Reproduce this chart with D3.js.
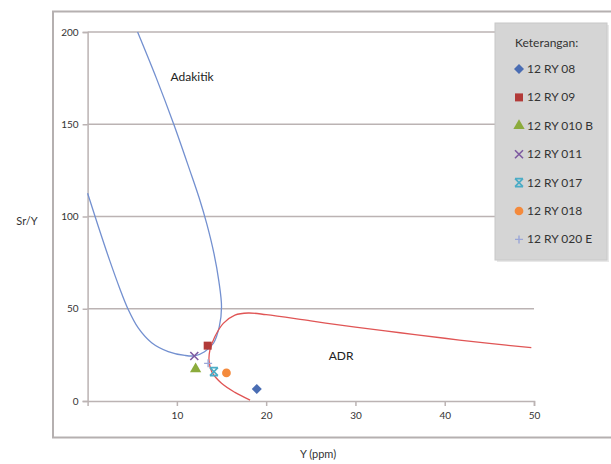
<!DOCTYPE html>
<html><head><meta charset="utf-8">
<script src="https://cdn.jsdelivr.net/npm/d3@7"></script>
<style>body{margin:0;background:#fff;} svg{display:block;font-family:Lato,"Open Sans",sans-serif;}</style>
</head><body>
<svg id="c" width="611" height="464"></svg>
<script>
const xTicks = [10, 20, 30, 40, 50];
const yTicks = [0, 50, 100, 150, 200];
const seriesNames = ["12 RY 08", "12 RY 09", "12 RY 010 B", "12 RY 011", "12 RY 017", "12 RY 018", "12 RY 020 E"];
const seriesX = [18.95, 13.45, 12.1, 11.95, 14.15, 15.55, 13.5];
const seriesY = [6.5, 30.0, 17.4, 24.4, 15.9, 15.2, 20.4];
const seriesColors = ["#4a6db3", "#b23a38", "#8bab3c", "#7d5aa0", "#4bacc6", "#f48a3c", "#9aa6d8"];
const seriesShapes = ["diamond", "square", "triangle", "x", "star", "circle", "plus"];
const adakitikX = [5.6, 7.7, 9.65, 11.45, 12.5, 13.35, 14.15, 14.7, 15.0, 14.75, 14.1, 13.1, 12.0, 10.9, 9.03, 7.17, 5.67, 4.55, 3.6, 2.5, 1.2, 0];
const adakitikY = [200, 175, 150, 125, 110, 96, 80, 65, 51, 40.3, 31.3, 26.7, 24.5, 24.7, 26.8, 31.6, 39.6, 49.6, 61, 75.8, 94.6, 112.6];
const adrX = [18.2, 16.5, 15.0, 13.9, 13.6, 13.7, 14.25, 15.2, 16.5, 18.0, 20, 25, 30, 35, 40, 45, 49.7];
const adrY = [0.5, 4.7, 9.6, 15.9, 22, 27.6, 34.8, 42.1, 46.6, 47.7, 46.8, 43.4, 40.0, 37.0, 34.0, 31.2, 28.9];

const svg = d3.select("#c");
const x = d3.scaleLinear().domain([0, 50]).range([87.6, 534]);
const y = d3.scaleLinear().domain([0, 200]).range([401, 32]);
const grid = "#bbb3b3";

// outer frame
svg.append("rect").attr("x", 53).attr("y", 11.5).attr("width", 570).attr("height", 426)
  .attr("fill", "#fff").attr("stroke", "#b5b0b0").attr("stroke-width", 2);

// gridlines
svg.append("g").selectAll("line").data(yTicks.filter(d => d > 0)).join("line")
  .attr("x1", x(0)).attr("x2", x(50)).attr("y1", d => y(d)).attr("y2", d => y(d))
  .attr("stroke", grid).attr("stroke-width", 1.5);

// axes
const xa = svg.append("g").attr("transform", `translate(0,${y(0)})`)
  .call(d3.axisBottom(x).tickValues(xTicks).tickSize(5).tickPadding(6));
const ya = svg.append("g").attr("transform", `translate(${x(0)},0)`)
  .call(d3.axisLeft(y).tickValues(yTicks).tickSize(5).tickPadding(4));
[xa, ya].forEach(a => {
  a.select(".domain").attr("stroke", grid).attr("stroke-width", 1.5);
  a.selectAll(".tick line").attr("stroke", grid).attr("stroke-width", 1.5);
  a.selectAll("text").attr("fill", "#333").attr("font-size", 10).attr("font-family", "Lato, sans-serif");
});

// curves
const line = d3.line().x(d => x(d[0])).y(d => y(d[1])).curve(d3.curveCatmullRom.alpha(0.5));
svg.append("path").datum(adakitikX.map((v, i) => [v, adakitikY[i]])).attr("d", line)
  .attr("fill", "none").attr("stroke", "#7390d0").attr("stroke-width", 1.3);
svg.append("path").datum(adrX.map((v, i) => [v, adrY[i]])).attr("d", line)
  .attr("fill", "none").attr("stroke", "#e05555").attr("stroke-width", 1.3);

// region labels
svg.append("text").attr("x", x(11.7)).attr("y", y(173.4)).attr("text-anchor", "middle")
  .attr("font-size", 12).attr("fill", "#222").text("Adakitik");
svg.append("text").attr("x", x(28.4)).attr("y", y(22.2)).attr("text-anchor", "middle")
  .attr("font-size", 12).attr("fill", "#222").text("ADR");

// axis titles
svg.append("text").attr("x", 27).attr("y", 225).attr("text-anchor", "middle")
  .attr("font-size", 11).attr("fill", "#333").text("Sr/Y");
svg.append("text").attr("x", 318).attr("y", 458).attr("text-anchor", "middle")
  .attr("font-size", 11).attr("fill", "#333").text("Y (ppm)");

function marker(g, shape, color) {
  const sym = {square: d3.symbolSquare, triangle: d3.symbolTriangle, circle: d3.symbolCircle};
  const sizes = {square: 64, triangle: 55, circle: 60};
  if (sym[shape]) {
    g.append("path").attr("d", d3.symbol(sym[shape], sizes[shape])()).attr("fill", color);
  } else if (shape === "diamond") {
    g.append("path").attr("d", "M0,-5L5,0L0,5L-5,0Z").attr("fill", color);
  } else if (shape === "x") {
    g.append("path").attr("d", "M-4,-4L4,4M-4,4L4,-4").attr("stroke", color).attr("stroke-width", 1.6);
  } else if (shape === "star") {
    g.append("path").attr("d", "M-4,-4L4,4M-4,4L4,-4M-4,-4L4,-4M-4,4L4,4").attr("stroke", color).attr("stroke-width", 1.6);
  } else if (shape === "plus") {
    g.append("path").attr("d", "M-4,0L4,0M0,-4L0,4").attr("stroke", color).attr("stroke-width", 1.4);
  }
}

// points
seriesNames.forEach((n, i) => {
  const g = svg.append("g").attr("transform", `translate(${x(seriesX[i])},${y(seriesY[i])})`);
  marker(g, seriesShapes[i], seriesColors[i]);
});

// legend
svg.append("rect").attr("x", 497).attr("y", 25).attr("width", 112).attr("height", 237).attr("fill", "#e8e8e8");
svg.append("rect").attr("x", 495).attr("y", 23).attr("width", 112).attr("height", 237)
  .attr("fill", "#d5d5d5").attr("stroke", "#c8c8c8");
svg.append("text").attr("x", 515).attr("y", 47).attr("font-size", 12).attr("fill", "#333").text("Keterangan:");
seriesNames.forEach((n, i) => {
  const cy = 69 + i * 28.4;
  const g = svg.append("g").attr("transform", `translate(519,${cy})`);
  marker(g, seriesShapes[i], seriesColors[i]);
  svg.append("text").attr("x", 527).attr("y", cy + 4).attr("font-size", 12).attr("fill", "#333").text(n);
});
</script>
</body></html>
